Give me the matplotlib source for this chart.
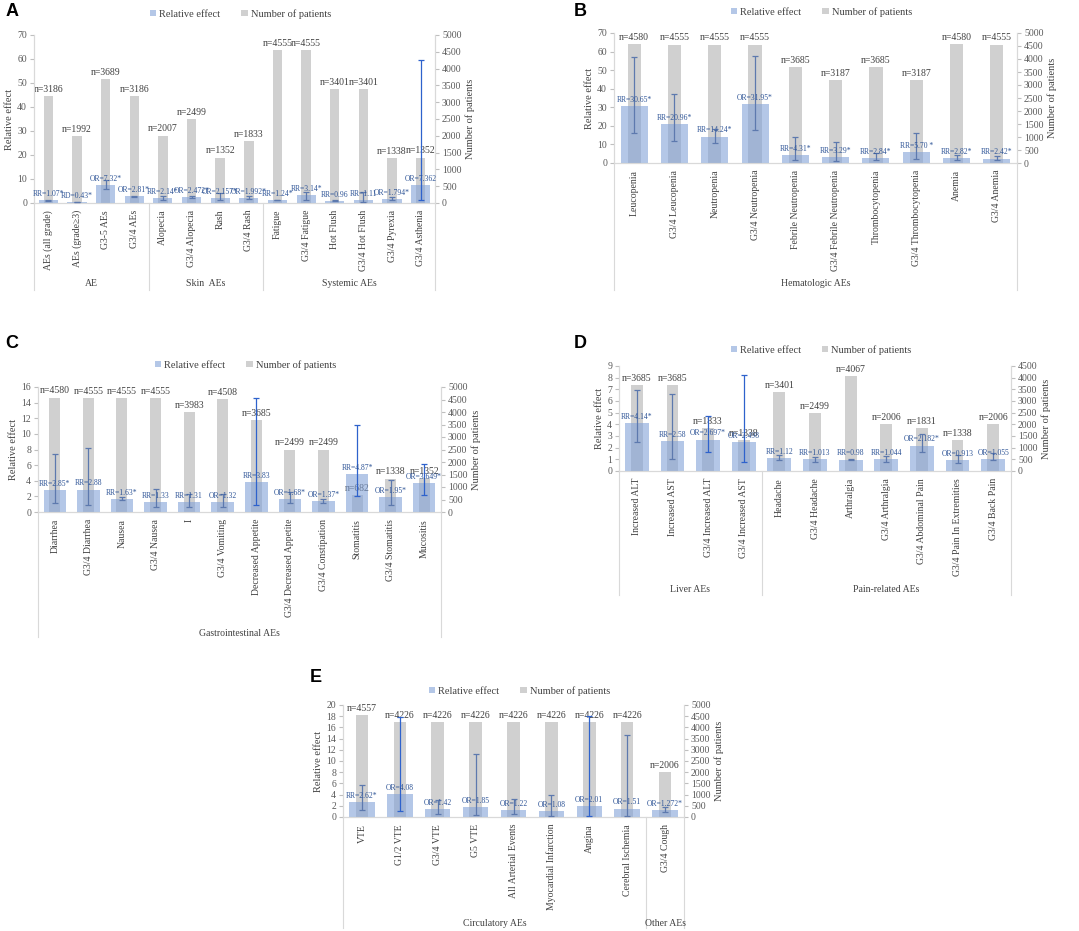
import matplotlib
matplotlib.use('Agg')
import matplotlib.pyplot as plt
import matplotlib.transforms as mtransforms
from matplotlib.lines import Line2D
from matplotlib.patches import Patch

plt.rcParams['font.family'] = ['Liberation Serif', 'DejaVu Serif']

# ---------------- data ----------------
# panel A
a_cats = ['AEs (all grade)', 'AEs (grade≥3)', 'G3-5 AEs', 'G3/4 AEs', 'Alopecia', 'G3/4 Alopecia',
          'Rash', 'G3/4 Rash', 'Fatigue', 'G3/4 Fatigue', 'Hot Flush', 'G3/4 Hot Flush',
          'G3/4 Pyrexia', 'G3/4 Asthenia']
a_groups = ['AE', 'Skin  AEs', 'Systemic AEs']
a_sizes = [4, 4, 6]
a_n = [3186, 1992, 3689, 3186, 2007, 2499, 1352, 1833, 4555, 4555, 3401, 3401, 1338, 1352]
a_eff = [1.07, 0.43, 7.32, 2.81, 2.14, 2.472, 2.157, 1.992, 1.24, 3.14, 0.96, 1.11, 1.794, 7.362]
a_lo = [0.95, 0.3, 5.7, 2.5, 1.4, 2.0, 1.2, 1.5, 1.1, 1.25, 0.8, 0.3, 1.2, 1.1]
a_hi = [1.2, 0.55, 9.6, 3.1, 3.0, 3.0, 4.0, 2.8, 1.4, 4.7, 1.1, 4.7, 2.6, 59.6]
a_labs = ['RR=1.07*', 'RD=0.43*', 'OR=7.32*', 'OR=2.81*', 'RR=2.14*', 'OR=2.472*', 'OR=2.157*',
          'OR=1.992*', 'RR=1.24*', 'RR=3.14*', 'RR=0.96', 'RR=1.11', 'OR=1.794*', 'OR=7.362']

# panel B
b_cats = ['Leucopenia', 'G3/4 Leucopenia', 'Neutropenia', 'G3/4 Neutropenia', 'Febrile Neutropenia',
          'G3/4 Febrile Neutropenia', 'Thrombocytopenia', 'G3/4 Thrombocytopenia', 'Anemia', 'G3/4 Anemia']
b_groups = ['Hematologic AEs']
b_sizes = [10]
b_n = [4580, 4555, 4555, 4555, 3685, 3187, 3685, 3187, 4580, 4555]
b_eff = [30.65, 20.96, 14.24, 31.95, 4.31, 3.29, 2.84, 5.70, 2.82, 2.42]
b_lo = [16.3, 11.9, 11.0, 17.5, 1.4, 0.9, 1.4, 2.0, 1.8, 1.4]
b_hi = [57.0, 37.0, 18.5, 57.4, 14.0, 11.4, 5.4, 15.9, 4.5, 4.0]
b_labs = ['RR=30.65*', 'RR=20.96*', 'RR=14.24*', 'OR=31.95*', 'RR=4.31*', 'RR=3.29*', 'RR=2.84*',
          'RR=5.70 *', 'RR=2.82*', 'RR=2.42*']

# panel C
c_cats = ['Diarrhea', 'G3/4 Diarrhea', 'Nausea', 'G3/4 Nausea', 'I', 'G3/4 Vomiting',
          'Decreased Appetite', 'G3/4 Decreased Appetite', 'G3/4 Constipation', 'Stomatitis',
          'G3/4 Stomatitis', 'Mucositis']
c_groups = ['Gastrointestinal AEs']
c_sizes = [12]
c_n = [4580, 4555, 4555, 4555, 3983, 4508, 3685, 2499, 2499, 682, 1338, 1352]
c_eff = [2.85, 2.88, 1.63, 1.33, 1.31, 1.32, 3.83, 1.68, 1.37, 4.87, 1.95, 3.649]
c_lo = [1.1, 0.94, 1.53, 0.6, 0.6, 0.6, 0.94, 1.2, 1.1, 2.04, 0.94, 2.2]
c_hi = [7.4, 8.25, 1.87, 3.0, 2.25, 2.3, 14.6, 2.5, 1.66, 11.2, 4.1, 6.1]
c_labs = ['RR=2.85*', 'RR=2.88', 'RR=1.63*', 'RR=1.33', 'RR=1.31', 'OR=1.32', 'RR=3.83', 'OR=1.68*',
          'OR=1.37*', 'RR=4.87*', 'OR=1.95*', 'OR=3.649*']

# panel D
d_cats = ['Increased ALT', 'Increased AST', 'G3/4 Increased ALT', 'G3/4 Increased AST', 'Headache',
          'G3/4 Headache', 'Arthralgia', 'G3/4 Arthralgia', 'G3/4 Abdominal Pain',
          'G3/4 Pain In Extremities', 'G3/4 Back Pain']
d_groups = ['Liver AEs', 'Pain-related AEs']
d_sizes = [4, 7]
d_n = [3685, 3685, 1833, 1338, 3401, 2499, 4067, 2006, 1831, 1338, 2006]
d_eff = [4.14, 2.58, 2.697, 2.498, 1.12, 1.013, 0.98, 1.044, 2.182, 0.913, 1.055]
d_lo = [2.45, 1.05, 1.6, 0.74, 0.94, 0.8, 0.9, 0.8, 1.6, 0.66, 0.94]
d_hi = [6.98, 6.58, 4.73, 8.23, 1.37, 1.23, 1.05, 1.29, 3.2, 1.37, 1.5]
d_labs = ['RR=4.14*', 'RR=2.58', 'OR=2.697*', 'OR=2.498', 'RR=1.12', 'RR=1.013', 'RR=0.98',
          'RR=1.044', 'OR=2.182*', 'OR=0.913', 'OR=1.055']

# panel E
e_cats = ['VTE', 'G1/2 VTE', 'G3/4 VTE', 'G5 VTE', 'All Arterial Events', 'Myocardial Infarction',
          'Angina', 'Cerebral Ischemia', 'G3/4 Cough']
e_groups = ['Circulatory AEs', 'Other AEs']
e_sizes = [8, 1]
e_n = [4557, 4226, 4226, 4226, 4226, 4226, 4226, 4226, 2006]
e_eff = [2.62, 4.08, 1.42, 1.85, 1.22, 1.08, 2.01, 1.51, 1.272]
e_lo = [1.3, 1.0, 0.6, 0.3, 0.6, 0.24, 0.2, 0.2, 0.96]
e_hi = [5.8, 17.8, 3.0, 11.3, 3.2, 4.0, 18.1, 14.6, 1.74]
e_labs = ['RR=2.62*', 'OR=4.08', 'OR=1.42', 'OR=1.85', 'OR=1.22', 'OR=1.08', 'OR=2.01', 'OR=1.51',
          'OR=1.272*']

# ---------------- style ----------------
W, H = 1079, 931
BLUE = '#82A2D7'
BLUE_A = 0.6
GRAY = '#D0D0D0'
ERR = '#5D79AE'
HI = '#2E62CC'
LABC = '#2F5597'
TXT = '#404040'
SEP = '#D9D9D9'

fig = plt.figure(figsize=(W / 100, H / 100), dpi=100)


def fx(px):
    return px / W


def fy(py):
    return 1 - py / H


def panel(box, cats, groups, sizes, n, eff, lo, hi, labs, hl, lmax, lstep, rmax, rstep,
          letter, letter_xy, legend_y, line_bottom, group_y):
    x0, y0, x1, y1 = box
    ax = fig.add_axes([fx(x0), fy(y1), (x1 - x0) / W, (y1 - y0) / H])
    ax2 = ax.twinx()
    ax.set_zorder(ax2.get_zorder() + 1)
    ax.patch.set_visible(False)
    xs = list(range(len(cats)))

    ax2.bar(xs, n, width=0.33, color=GRAY, zorder=1)
    ax.bar(xs, eff, width=0.67, color=BLUE, alpha=BLUE_A, zorder=1)
    for i in xs:
        c = HI if i in hl else ERR
        ax.errorbar(i, eff[i], yerr=[[eff[i] - lo[i]], [hi[i] - eff[i]]], fmt='none',
                    ecolor=c, elinewidth=0.9, capsize=2.2, capthick=0.9, zorder=3)
        ax.annotate(labs[i], (i, eff[i]), xytext=(0, 1.5), textcoords='offset points',
                    ha='center', va='bottom', fontsize=5.5, color=LABC, zorder=4)
        ax2.annotate(f'n={n[i]}', (i, n[i]), xytext=(0, 1.5), textcoords='offset points',
                     ha='center', va='bottom', fontsize=7, color=TXT, annotation_clip=False)

    ax.set_xlim(-0.5, len(cats) - 0.5)
    ax.set_ylim(0, lmax)
    ax2.set_ylim(0, rmax)
    ax.set_yticks(range(0, lmax + 1, lstep))
    ax2.set_yticks(range(0, rmax + 1, rstep))
    ax.set_xticks(xs)
    ax.set_xticklabels(cats, rotation=90, fontsize=7, color=TXT)
    ax.tick_params(axis='x', length=0, pad=5)
    ax.tick_params(axis='y', labelsize=7, labelcolor='#595959', color='#BFBFBF', length=3, pad=2)
    ax2.tick_params(axis='y', labelsize=7, labelcolor='#595959', color='#BFBFBF', length=3, pad=2)
    ax.set_ylabel('Relative effect', fontsize=7.5, color=TXT, labelpad=2)
    ax2.set_ylabel('Number of patients', fontsize=7.5, color=TXT, labelpad=3)
    for a in (ax, ax2):
        a.spines['top'].set_visible(False)
        for s in ('left', 'right', 'bottom'):
            a.spines[s].set_color(SEP)
            a.spines[s].set_linewidth(0.8)

    # group separators and labels under the category axis
    trans = mtransforms.blended_transform_factory(ax.transData, fig.transFigure)
    bounds = [-0.5]
    for s in sizes:
        bounds.append(bounds[-1] + s)
    for b in bounds:
        fig.add_artist(Line2D([b, b], [fy(y1), fy(line_bottom)], transform=trans,
                              color=SEP, lw=0.8))
    for g, a_, b_ in zip(groups, bounds[:-1], bounds[1:]):
        fig.text((a_ + b_) / 2, fy(group_y), g, transform=trans, ha='center', va='center',
                 fontsize=7, color=TXT)

    handles = [Patch(facecolor=BLUE, alpha=BLUE_A), Patch(facecolor=GRAY)]
    fig.legend(handles, ['Relative effect', 'Number of patients'], loc='center',
               bbox_to_anchor=(fx((x0 + x1) / 2 + 6), fy(legend_y)), ncol=2, frameon=False,
               fontsize=7.5, handlelength=0.6, handleheight=0.6, handletextpad=0.3,
               columnspacing=2.0, labelcolor=TXT)
    fig.text(fx(letter_xy[0]), fy(letter_xy[1]), letter, fontsize=13, fontweight='bold',
             family='Liberation Sans', ha='center', va='center')


panel((34, 35, 435, 203), a_cats, a_groups, a_sizes, a_n, a_eff, a_lo, a_hi, a_labs, [13],
      70, 10, 5000, 500, 'A', (12, 12), 14, 290, 284)
panel((614, 33, 1017, 163), b_cats, b_groups, b_sizes, b_n, b_eff, b_lo, b_hi, b_labs, [],
      70, 10, 5000, 500, 'B', (580, 11), 12, 290, 284)
panel((38, 387, 441, 512), c_cats, c_groups, c_sizes, c_n, c_eff, c_lo, c_hi, c_labs, [6, 9, 11],
      16, 2, 5000, 500, 'C', (12, 344), 365, 637, 633)
panel((619, 366, 1011, 471), d_cats, d_groups, d_sizes, d_n, d_eff, d_lo, d_hi, d_labs, [2, 3],
      9, 1, 4500, 500, 'D', (580, 344), 350, 595, 589)
panel((343, 705, 684, 817), e_cats, e_groups, e_sizes, e_n, e_eff, e_lo, e_hi, e_labs, [1, 6],
      20, 2, 5000, 500, 'E', (316, 677), 691, 928, 923)

fig.savefig('out.png', dpi=100)
